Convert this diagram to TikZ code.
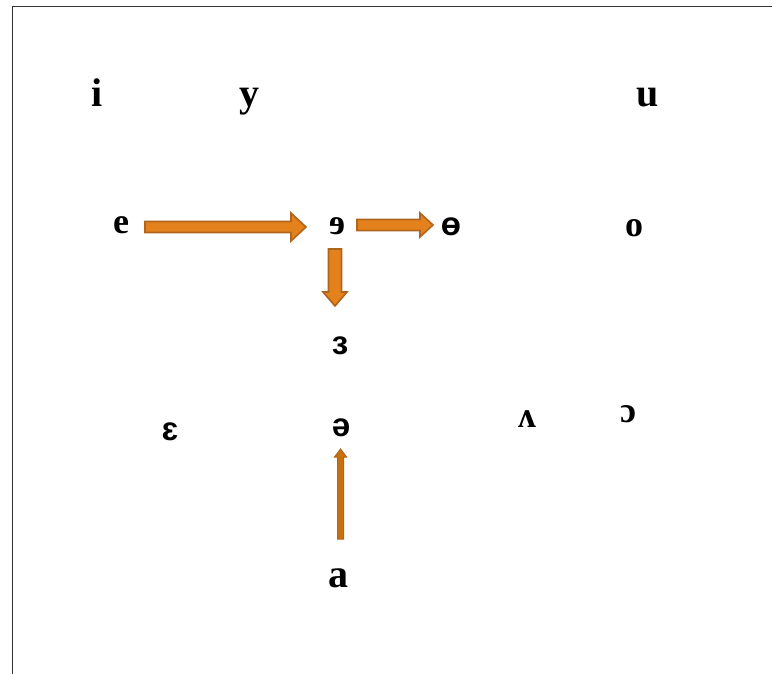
\documentclass[tikz,border=0pt]{standalone}
\usepackage{fontspec}
\setmainfont{Liberation Serif}
\newfontfamily\arialf{Liberation Sans}
\definecolor{arrfill}{HTML}{E3821C}
\definecolor{arrdraw}{HTML}{B0641C}
\definecolor{arrfilltwo}{HTML}{C8700F}
\begin{document}
\begin{tikzpicture}[x=1pt,y=-1pt,
  vow/.style={inner sep=0pt, font=\fontsize{36}{40}\selectfont\bfseries},
  vowbig/.style={inner sep=0pt, font=\fontsize{40}{44}\selectfont\bfseries},
  vows/.style={inner sep=0pt, font=\fontsize{33}{36}\selectfont\bfseries\arialf},
  blk/.style={fill=arrfill, draw=arrdraw, line width=1.6pt, line join=miter},
  blkthin/.style={fill=arrfilltwo, draw=arrdraw, line width=1pt, line join=miter}]
\useasboundingbox (0,0) rectangle (772,674);
\draw[line width=1pt, black!80] (12,674) -- (12,7) -- (772,7);
% vowels
\node[vowbig] (i) at (97,93) {i};
\node[vowbig] (y) at (249,102) {y};
\node[vowbig] (u) at (648,98) {u};
\node[vow] (e) at (121,225) {e};
\node[vow] (rev) at (337,226) {ɘ};
\node[vows] (bar) at (451,227) {ɵ};
\node[vow] (o) at (634,228) {o};
\node[vows] (eps) at (340,346) {ɜ};
\node[vows] (ep) at (170,432) {ɛ};
\node[vows] (sch) at (341,428) {ə};
\node[vow] (wedge) at (527,419) {ʌ};
\node[vow] (oo) at (628,414) {ɔ};
\node[vowbig] (a) at (338,578) {a};
% block arrows
\draw[blk] (145,221.5) -- (291,221.5) -- (291,213) -- (306,227) -- (291,241) -- (291,232.5) -- (145,232.5) -- cycle;
\draw[blk] (357,219.5) -- (420,219.5) -- (420,213) -- (433,225) -- (420,237) -- (420,230.5) -- (357,230.5) -- cycle;
\draw[blk] (328.5,249) -- (341.5,249) -- (341.5,292) -- (347,292) -- (335,306) -- (323,292) -- (328.5,292) -- cycle;
\draw[blkthin] (337.5,539) -- (343.5,539) -- (343.5,457) -- (346.5,457) -- (340.5,449) -- (334.5,457) -- (337.5,457) -- cycle;
\end{tikzpicture}
\end{document}
